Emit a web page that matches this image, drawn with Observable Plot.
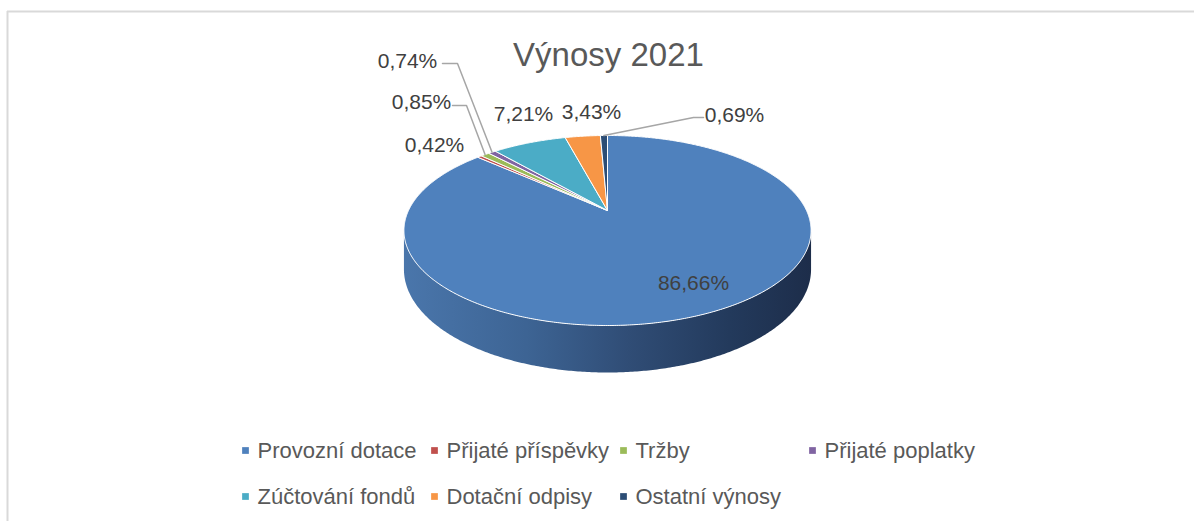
<!DOCTYPE html>
<html><head><meta charset="utf-8">
<script src="https://cdn.jsdelivr.net/npm/d3@7"></script>
<script src="https://cdn.jsdelivr.net/npm/@observablehq/plot@0.6"></script>
<style>html,body{margin:0;padding:0;background:#fff;overflow:hidden;}</style>
</head><body><div id="chart"></div>
<script>
// ---- data ----
const categories = ["Provozní dotace","Přijaté příspěvky","Tržby","Přijaté poplatky","Zúčtování fondů","Dotační odpisy","Ostatní výnosy"];
const shares = [86.66, 0.42, 0.85, 0.74, 7.21, 3.43, 0.69];
const shareLabels = ["86,66%","0,42%","0,85%","0,74%","7,21%","3,43%","0,69%"];
const colors = ["#4F81BD","#C0504D","#9BBB59","#8064A2","#4BACC6","#F79646","#2C4D75"];
const title = "Výnosy 2021";

// ---- layout ----
const W = 1194, H = 521;
const cx = 607, cy = 210, a = 199, b = 90.8, k = 0.2105, depth = 37.1;
const FONT = "'Liberation Sans', Arial, sans-serif";
// label placement (layout, per category index): position of label centre, and leader elbow (null = none)
const labelLayout = [
  {x: 693, y: 283, elbow: null},
  {x: 434, y: 145, elbow: null},
  {x: 421, y: 102, elbow: [[452,105],[466,105]]},
  {x: 407, y: 61,  elbow: [[442,63],[457,63]]},
  {x: 523, y: 114, elbow: null},
  {x: 591, y: 112, elbow: null},
  {x: 734, y: 115, elbow: [[703,117],[693,117]]}
];
const legendCol0 = 245, legendPitch = 189, legendRows = [450, 496], legendCols = 4;

function proj(thetaDeg, r = 1, dz = 0) {
  const t = thetaDeg * Math.PI / 180;
  const u = r * Math.sin(t), v = -r * Math.cos(t);
  const s = 1 / (1 - k * v);
  return [cx + a * u * s, cy + b * v * s + dz * s];
}

const total = d3.sum(shares);
const slices = [];
let acc = 0;
shares.forEach((v, i) => {
  const start = acc / total * 360, end = (acc + v) / total * 360;
  acc += v;
  slices.push({i, start, end, mid: (start + end) / 2});
});

// top face slice polygons
const slicePts = [];
for (const sl of slices) {
  const [ax, ay] = proj(0, 0);
  slicePts.push({id: sl.i, x: ax, y: ay, c: colors[sl.i]});
  const n = Math.max(2, Math.ceil((sl.end - sl.start) / 0.5));
  for (let j = 0; j <= n; j++) {
    const [x, y] = proj(sl.start + (sl.end - sl.start) * j / n);
    slicePts.push({id: sl.i, x, y, c: colors[sl.i]});
  }
  slicePts.push({id: sl.i, x: ax, y: ay, c: colors[sl.i]});
}

// front wall (visible side) polygon
const thR = Math.acos(-k) * 180 / Math.PI, thL = 360 - thR;
const wallPts = [];
const nW = 300;
for (let j = 0; j <= nW; j++) { const [x, y] = proj(thR + (thL - thR) * j / nW); wallPts.push({x, y}); }
for (let j = nW; j >= 0; j--) { const [x, y] = proj(thR + (thL - thR) * j / nW, 1, depth); wallPts.push({x, y}); }

// leader lines
const leaderPts = [];
labelLayout.forEach((L, i) => {
  if (!L.elbow) return;
  L.elbow.forEach(([x, y]) => leaderPts.push({id: i, x, y}));
  const [rx, ry] = proj(slices[i].mid);
  leaderPts.push({id: i, x: rx, y: ry});
});

const labelData = shareLabels.map((t, i) => ({t, x: labelLayout[i].x, y: labelLayout[i].y}));
const legendData = categories.map((name, i) => ({
  name, c: colors[i],
  x: legendCol0 + (i % legendCols) * legendPitch,
  y: legendRows[Math.floor(i / legendCols)]
}));

const chart = Plot.plot({
  width: W, height: H,
  margin: 0,
  x: {domain: [0, W], range: [0, W], axis: null},
  y: {domain: [0, H], range: [0, H], axis: null},
  color: {type: "identity"},
  style: {fontFamily: FONT, background: "#fff", overflow: "hidden"},
  marks: [
    Plot.ruleY([11], {x1: 7, x2: W + 5, stroke: "#d9d9d9", strokeWidth: 2}),
    Plot.ruleX([7], {y1: 11, y2: H + 5, stroke: "#d9d9d9", strokeWidth: 2}),
    Plot.line(wallPts, {x: "x", y: "y", fill: "url(#wallGrad)", stroke: "none", curve: "linear"}),
    Plot.line(slicePts, {x: "x", y: "y", z: "id", fill: "c", stroke: "#fff", strokeWidth: 1, strokeLinejoin: "round"}),
    Plot.line(leaderPts, {x: "x", y: "y", z: "id", stroke: "#a6a6a6", strokeWidth: 1.5}),
    Plot.text(labelData, {x: "x", y: "y", text: "t", fontSize: 21, fill: "#404040"}),
    Plot.text([title], {x: cx + 1, y: 55, text: d => d, fontSize: 33, fill: "#595959"}),
    Plot.dot(legendData, {x: "x", y: "y", symbol: "square", r: 3.8, fill: "c", stroke: "none"}),
    Plot.text(legendData, {x: d => d.x + 12, y: "y", text: "name", textAnchor: "start", fontSize: 22, fill: "#595959"})
  ]
});

const defs = d3.select(chart).insert("defs", ":first-child");
const g = defs.append("linearGradient").attr("id", "wallGrad").attr("x1", 0).attr("x2", 1).attr("y1", 0).attr("y2", 0);
[[0, "#4a76ab"], [0.3, "#3d6494"], [0.55, "#304d76"], [0.8, "#233a5c"], [1, "#1d2d4a"]].forEach(([o, c]) =>
  g.append("stop").attr("offset", o).attr("stop-color", c));

document.getElementById("chart").appendChild(chart);
</script>
</body></html>
